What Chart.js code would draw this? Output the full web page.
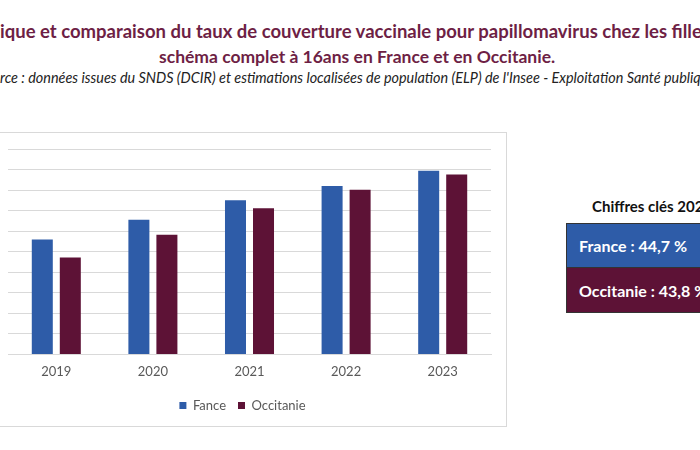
<!DOCTYPE html>
<html>
<head>
<meta charset="utf-8">
<script src="https://cdn.jsdelivr.net/npm/chart.js@4"></script>
<style>
  html, body { margin:0; padding:0; background:#fff; width:700px; height:450px; overflow:hidden; }
  body { position:relative; font-family: Lato, "Open Sans", sans-serif; }
  .t { position:absolute; white-space:nowrap; }
  #t1 { left:0px; top:20px; font-size:18.5px; line-height:22px; font-weight:bold; color:#6e1f45; }
  #t2 { left:159px; top:46px; font-size:17.5px; line-height:22px; font-weight:bold; color:#6e1f45; }
  #t3 { left:0px; top:70px; font-size:14.4px; line-height:16px; font-style:italic; color:#222; }
  #frame { position:absolute; left:-2px; top:132px; width:509px; height:295px; border:1px solid #d9d9d9; box-sizing:border-box; }
  #wrap { position:absolute; left:0px; top:133px; width:506px; height:293px; }
  #kt { left:592px; top:196px; font-size:15px; line-height:20px; font-weight:bold; color:#111; }
  .box { position:absolute; left:566px; width:150px; box-sizing:border-box; border:1px solid #333; color:#fff; font-weight:bold; font-size:16px; padding-left:12px; display:flex; align-items:center; white-space:nowrap; }
  #bf { top:223px; height:45px; background:#2e5ca8; }
  #bo { top:267px; height:46px; background:#5d1236; }
</style>
</head>
<body>
<div class="t" id="t1">ique et comparaison du taux de couverture vaccinale pour papillomavirus chez les filles</div>
<div class="t" id="t2">schéma complet à 16ans en France et en Occitanie.</div>
<div class="t" id="t3">rce : données issues du SNDS (DCIR) et estimations localisées de population (ELP) de l'Insee - Exploitation Santé publique</div>
<div id="frame"></div>
<div id="wrap"><canvas id="c"></canvas></div>
<div class="t" id="kt">Chiffres clés 2023</div>
<div class="box" id="bf">France : 44,7 %</div>
<div class="box" id="bo">Occitanie : 43,8 %</div>
<script>
const years = ["2019", "2020", "2021", "2022", "2023"];
const franceValues = [28.0, 32.8, 37.5, 41.0, 44.7];
const occitanieValues = [23.6, 29.1, 35.6, 40.1, 43.8];
const seriesLabels = ["Fance", "Occitanie"];
const yMax = 50;
const yStep = 5;

const legendShift = {
  id: 'legendShift',
  afterLayout(chart) {
    if (chart.legend) { chart.legend.left -= 7; chart.legend.right -= 7; }
  }
};

new Chart(document.getElementById('c'), {
  type: 'bar',
  data: {
    labels: years,
    datasets: [
      { label: seriesLabels[0], data: franceValues, backgroundColor: '#2e5ca8', barPercentage: 0.75, categoryPercentage: 0.58 },
      { label: seriesLabels[1], data: occitanieValues, backgroundColor: '#5d1236', barPercentage: 0.75, categoryPercentage: 0.58 }
    ]
  },
  plugins: [legendShift],
  options: {
    responsive: true,
    maintainAspectRatio: false,
    animation: false,
    layout: { padding: { left: 8, right: 15, top: 16, bottom: 4 } },
    plugins: {
      tooltip: { enabled: false },
      legend: {
        position: 'bottom',
        labels: { boxWidth: 7, boxHeight: 7, padding: 12, color: '#595959', font: { family: 'Lato', size: 13 } }
      }
    },
    scales: {
      x: {
        grid: { display: false },
        border: { display: true, color: '#d9d9d9' },
        ticks: { color: '#595959', font: { family: 'Lato', size: 13 }, padding: 2 },
        afterFit: (scale) => { scale.height += 5; }
      },
      y: {
        min: 0, max: yMax,
        ticks: { stepSize: yStep, display: false },
        grid: { color: '#d9d9d9', drawTicks: false },
        border: { display: false }
      }
    }
  }
});
</script>
</body>
</html>
